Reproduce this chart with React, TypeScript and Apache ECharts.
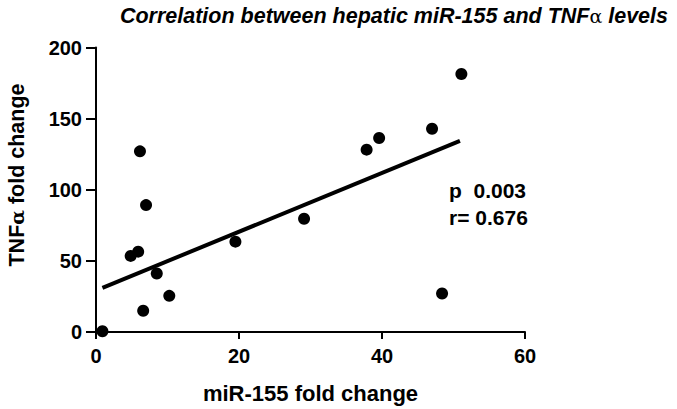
import React, { useEffect, useRef } from "react";
import * as echarts from "echarts";

const mirValues = [0.9, 4.85, 5.9, 6.15, 6.6, 7.0, 8.5, 10.25, 19.5, 29.1, 37.85, 39.6, 47.0, 48.4, 51.1];
const tnfValues = [0.5, 53.5, 56.5, 127, 14.9, 89.2, 41.1, 25.4, 63.5, 79.6, 128.2, 136.4, 142.9, 27.1, 181.4];
const fitX = [0.9, 50.9];
const fitY = [31, 134.4];
const xTicks = [0, 20, 40, 60];
const yTicks = [0, 50, 100, 150, 200];

const FONT = "'Liberation Sans', Arial, sans-serif";

export default function App() {
  const ref = useRef<HTMLDivElement>(null);
  useEffect(() => {
    if (!ref.current) return;
    const chart = echarts.init(ref.current, null, { renderer: "svg" });
    const points = mirValues.map((x, i) => [x, tnfValues[i]]);
    const fit = fitX.map((x, i) => [x, fitY[i]]);
    chart.setOption({
      animation: false,
      backgroundColor: "#fff",
      title: {
        text: "{t|Correlation between hepatic miR-155 and TNF}{a|α}{t| levels}",
        right: 4,
        top: 0,
        textStyle: {
          rich: {
            t: { fontFamily: FONT, fontSize: 21.5, fontWeight: "bold", fontStyle: "italic", color: "#000" },
            a: { fontFamily: "'DejaVu Serif', serif", fontSize: 19, fontWeight: "normal", fontStyle: "normal", color: "#000" },
          },
        },
      },
      grid: { left: 96, right: 152, top: 47.5, bottom: 76, containLabel: false },
      xAxis: {
        type: "value",
        min: xTicks[0],
        max: xTicks[xTicks.length - 1],
        interval: 20,
        splitLine: { show: false },
        axisLine: { show: true, lineStyle: { color: "#000", width: 2 } },
        axisTick: { show: true, length: 7, lineStyle: { color: "#000", width: 2 } },
        axisLabel: { color: "#000", fontFamily: FONT, fontSize: 20, fontWeight: "bold", margin: 14 },
        name: "miR-155 fold change",
        nameLocation: "middle",
        nameGap: 50,
        nameTextStyle: { color: "#000", fontFamily: FONT, fontSize: 22, fontWeight: "bold" },
      },
      yAxis: {
        type: "value",
        min: yTicks[0],
        max: yTicks[yTicks.length - 1],
        interval: 50,
        splitLine: { show: false },
        axisLine: { show: true, lineStyle: { color: "#000", width: 2 } },
        axisTick: { show: true, length: 10, lineStyle: { color: "#000", width: 2 } },
        axisLabel: { color: "#000", fontFamily: FONT, fontSize: 20, fontWeight: "bold", margin: 14 },
      },
      series: [
        {
          type: "line",
          data: fit,
          symbol: "none",
          lineStyle: { color: "#000", width: 4 },
          silent: true,
          z: 2,
        },
        {
          type: "scatter",
          data: points,
          symbol: "circle",
          symbolSize: 12,
          itemStyle: { color: "#000", opacity: 1 },
          z: 3,
        },
      ],
      graphic: [
        {
          type: "text",
          x: 17,
          y: 175,
          rotation: Math.PI / 2,
          style: {
            text: "{t|TNF}{a|α}{t| fold change}",
            align: "center",
            verticalAlign: "middle",
            rich: {
              t: { fill: "#000", fontFamily: FONT, fontSize: 21.5, fontWeight: "bold" },
              a: { fill: "#000", fontFamily: "'DejaVu Serif', serif", fontSize: 19, fontWeight: "bold" },
            },
          },
        },
        {
          type: "text",
          left: 449,
          top: 177,
          style: {
            text: "p  0.003\nr= 0.676",
            fill: "#000",
            font: `bold 21px ${FONT}`,
            lineHeight: 27,
          },
        },
      ],
    });
    return () => chart.dispose();
  }, []);
  return <div ref={ref} style={{ width: 677, height: 409, position: "absolute", left: 0, top: 0 }} />;
}
